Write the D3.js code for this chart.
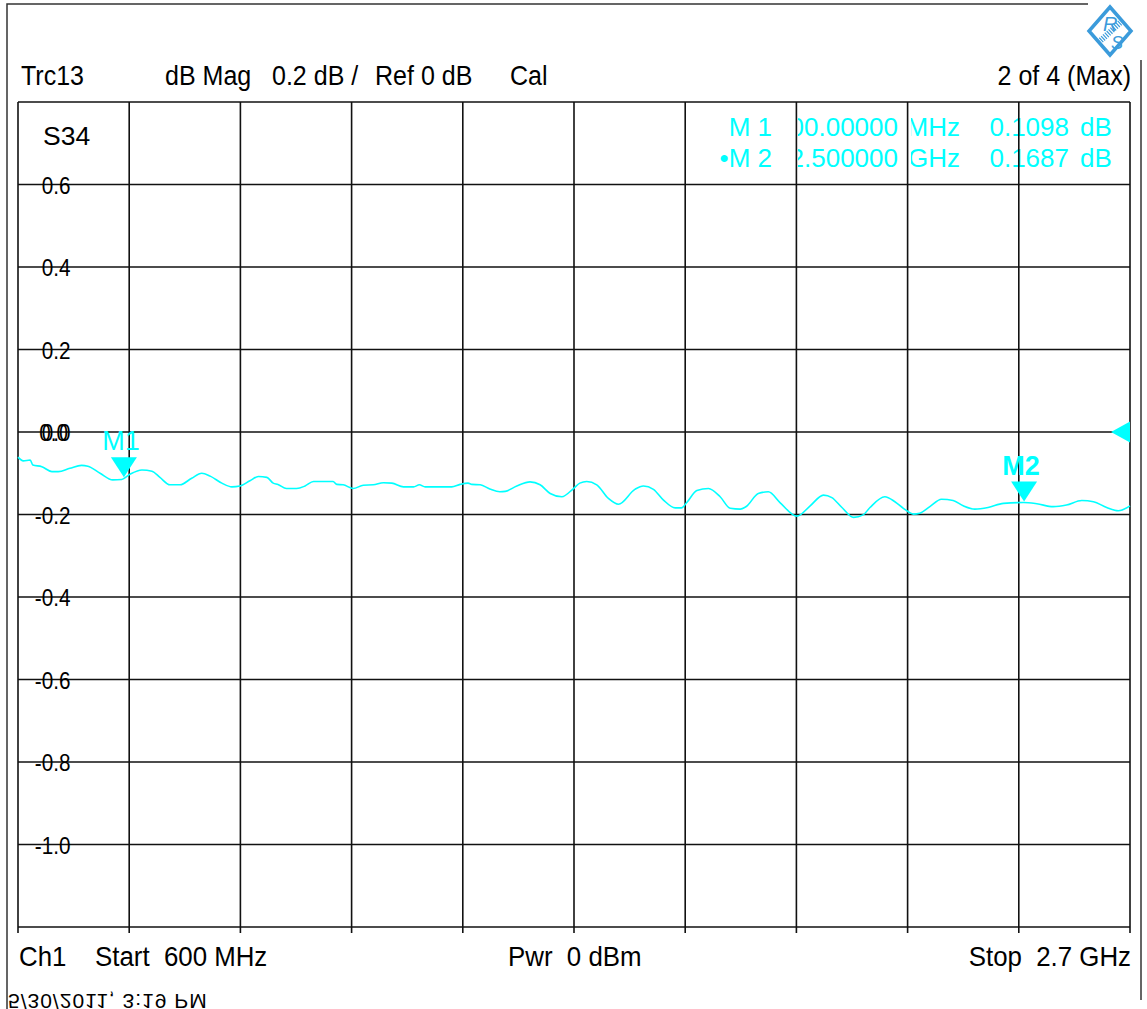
<!DOCTYPE html>
<html>
<head>
<meta charset="utf-8">
<script src="https://cdn.jsdelivr.net/npm/d3@7"></script>
<style>
  body { margin: 0; background: #fff; }
  svg text { font-family: "Liberation Sans", Arial, sans-serif; white-space: pre; }
</style>
</head>
<body>
<svg id="chart"></svg>
<script>
// trace S34, frequency in MHz, magnitude in dB
const freqMHz = [
  600, 610, 623, 628, 645, 664, 676, 698, 720, 732,
  755, 779, 796, 812, 834, 853, 868, 887, 906, 928,
  947, 963, 985, 1004, 1019, 1038, 1054, 1070, 1082, 1091,
  1107, 1126, 1142, 1158, 1195, 1202, 1214, 1233, 1252, 1271,
  1290, 1306, 1328, 1347, 1358, 1369, 1419, 1435, 1450, 1457,
  1473, 1491, 1510, 1520, 1542, 1567, 1586, 1605, 1627, 1649,
  1661, 1674, 1693, 1715, 1734, 1765, 1781, 1800, 1819, 1841,
  1853, 1863, 1882, 1904, 1926, 1945, 1964, 1976, 1998, 2017,
  2039, 2071, 2096, 2121, 2137, 2156, 2178, 2196, 2209, 2237,
  2256, 2272, 2291, 2303, 2322, 2344, 2366, 2385, 2407, 2432,
  2461, 2499, 2524, 2555, 2580, 2609, 2631, 2656, 2678, 2700
];
const s34dB = [
  -0.061, -0.070, -0.068, -0.080, -0.084, -0.096, -0.096, -0.088, -0.081, -0.083,
  -0.100, -0.116, -0.115, -0.102, -0.092, -0.095, -0.110, -0.128, -0.128, -0.112,
  -0.100, -0.107, -0.124, -0.133, -0.131, -0.118, -0.108, -0.110, -0.124, -0.127,
  -0.137, -0.137, -0.131, -0.120, -0.120, -0.127, -0.128, -0.137, -0.129, -0.128,
  -0.123, -0.124, -0.133, -0.133, -0.128, -0.133, -0.133, -0.127, -0.124, -0.127,
  -0.128, -0.138, -0.145, -0.144, -0.131, -0.121, -0.128, -0.149, -0.157, -0.137,
  -0.124, -0.120, -0.128, -0.161, -0.175, -0.139, -0.131, -0.139, -0.165, -0.184,
  -0.184, -0.171, -0.142, -0.137, -0.157, -0.185, -0.187, -0.180, -0.149, -0.145,
  -0.171, -0.204, -0.179, -0.153, -0.159, -0.183, -0.207, -0.201, -0.183, -0.157,
  -0.169, -0.185, -0.199, -0.197, -0.181, -0.163, -0.166, -0.179, -0.187, -0.183,
  -0.173, -0.171, -0.174, -0.181, -0.177, -0.166, -0.169, -0.183, -0.191, -0.179
];

const yTicks = [0.6, 0.4, 0.2, 0.0, -0.2, -0.4, -0.6, -0.8, -1.0];

const markerNames = ["M1", "M2"];
const markerFreq = [800, 2500];
const markerVal = [-0.1098, -0.1687];
const markerFreqText = ["800.00000", "2.500000"];
const markerUnit = ["MHz", "GHz"];

const headerLeft = ["Trc13", "dB Mag", "0.2 dB /", "Ref 0 dB", "Cal"];
const headerRight = "2 of 4 (Max)";
const footer = ["Ch1", "Start  600 MHz", "Pwr  0 dBm", "Stop  2.7 GHz"];
const stamp = "5/30/2011, 3:19 PM";

const W = 1147, H = 1009;
const cyan = "#00ffff", ink = "#111";

// plain hyphen minus like the instrument screen
const loc = d3.formatLocale({ decimal: ".", thousands: ",", grouping: [3], currency: ["", ""], minus: "-" });
const f1 = loc.format(".1f"), f4 = loc.format(".4f");

const svg = d3.select("#chart").attr("width", W).attr("height", H);
svg.append("rect").attr("width", W).attr("height", H).attr("fill", "#fff");

const x = d3.scaleLinear().domain([600, 2700]).range([18, 1130]);
const y = d3.scaleLinear().domain([-1.2, 0.8]).range([927, 102]);

// the analyzer font is a bit taller and narrower than Arial
function narrow(g, tx, ty, s, size, anchor, sx) {
    return g.append("text")
        .attr("transform", `translate(${tx},${ty}) scale(${sx},1)`)
        .attr("font-size", size)
        .attr("text-anchor", anchor || "start")
        .text(s);
}

// outer frame
svg.append("path")
    .attr("d", "M1088,4H7V1009")
    .attr("fill", "none").attr("stroke", "#333").attr("stroke-width", 1.5);
svg.append("line")
    .attr("x1", 1141).attr("x2", 1141).attr("y1", 60).attr("y2", 1000)
    .attr("stroke", "#333").attr("stroke-width", 1.5);

// R&S logo
const logo = svg.append("g").attr("transform", "translate(1110,31)");
logo.append("path").attr("d", "M0,-24L21,0L0,24L-21,0Z")
    .attr("fill", "#fff").attr("stroke", "#3b9bdb").attr("stroke-width", 3.5);
logo.append("line").attr("x1", 12).attr("y1", -10).attr("x2", -12).attr("y2", 12)
    .attr("stroke", "#3b9bdb").attr("stroke-width", 6).attr("stroke-dasharray", "1.2,1.3");
logo.append("text").attr("x", -7).attr("y", 0).attr("font-size", 20)
    .attr("font-style", "italic").attr("fill", "#3b9bdb").text("R");
logo.append("text").attr("x", 1).attr("y", 18).attr("font-size", 18)
    .attr("font-style", "italic").attr("fill", "#3b9bdb").text("S");

// header
const header = svg.append("g").attr("fill", "#000");
headerLeft.forEach((s, i) => narrow(header, [21, 165, 272, 375, 510][i], 85, s, 27.5, "start", 0.91));
narrow(header, 1131, 85, headerRight, 27.5, "end", 0.91);

// marker readout (drawn before the grid so grid lines sit on top)
const clip = svg.append("defs");
[["cFreq", 798], ["cUnit", 911], ["cVal", 989]].forEach(([id, x0]) => {
    clip.append("clipPath").attr("id", id)
        .append("rect").attr("x", x0).attr("y", 105).attr("width", 1130 - x0).attr("height", 75);
});
const rows = svg.append("g").attr("font-size", 26).attr("fill", cyan);
markerNames.forEach((m, i) => {
    const by = 136 + i * 31;
    rows.append("text").attr("x", 772).attr("y", by).attr("text-anchor", "end")
        .text((i === 1 ? "\u2022" : "") + m.replace("M", "M "));
    rows.append("text").attr("x", 898).attr("y", by).attr("text-anchor", "end")
        .attr("clip-path", "url(#cFreq)").text(markerFreqText[i]);
    rows.append("text").attr("x", 960).attr("y", by).attr("text-anchor", "end")
        .attr("clip-path", "url(#cUnit)").text(markerUnit[i]);
    rows.append("text").attr("x", 1069).attr("y", by).attr("text-anchor", "end")
        .attr("clip-path", "url(#cVal)").text(f4(markerVal[i]));
    rows.append("text").attr("x", 1080).attr("y", by).text("dB");
});

// grid
const grid = svg.append("g").attr("stroke", ink).attr("stroke-width", 1.6);
grid.selectAll("line.v").data(d3.range(11).map(i => 600 + i * 210)).enter()
    .append("line").attr("class", "v")
    .attr("x1", d => x(d)).attr("x2", d => x(d))
    .attr("y1", y(0.8)).attr("y2", y(-1.2) + 6);
grid.selectAll("line.h").data(d3.range(11).map(i => -1.2 + i * 0.2)).enter()
    .append("line").attr("class", "h")
    .attr("x1", x(600)).attr("x2", x(2700))
    .attr("y1", d => y(d)).attr("y2", d => y(d));

// y labels
const yl = svg.append("g").attr("fill", "#000");
yTicks.forEach(d => narrow(yl, 70.5, y(d) + 9, f1(Math.abs(d) < 1e-9 ? 0 : d), 23, "end", 0.9));
narrow(yl, 68, y(0) + 9, "0.0", 23, "end", 0.9);

svg.append("text").attr("x", 43).attr("y", 145).attr("font-size", 26.5).text("S34");

// reference position arrow
svg.append("path")
    .attr("d", `M${x(2700) - 19},${y(0)}L${x(2700)},${y(0) - 10.5}L${x(2700)},${y(0) + 10.5}Z`)
    .attr("fill", cyan);

// trace
const pts = freqMHz.map((f, i) => [f, s34dB[i]]);
svg.append("path")
    .datum(pts)
    .attr("fill", "none")
    .attr("stroke", cyan)
    .attr("stroke-width", 1.6)
    .attr("d", d3.line().x(d => x(d[0])).y(d => y(d[1])).curve(d3.curveMonotoneX));

// markers
markerNames.forEach((m, i) => {
    const mx = x(markerFreq[i]), my = y(markerVal[i]);
    svg.append("path")
        .attr("d", `M${mx},${my}L${mx - 13},${my - 20}L${mx + 13},${my - 20}Z`)
        .attr("fill", cyan);
    svg.append("text")
        .attr("x", mx - 3).attr("y", my - 27)
        .attr("text-anchor", "middle")
        .attr("font-size", 27)
        .attr("font-weight", i === 1 ? "bold" : "normal")
        .attr("fill", cyan)
        .text(m);
});

// footer
const foot = svg.append("g").attr("fill", "#000");
footer.forEach((s, i) => narrow(foot, [19, 95, 508, 1131][i], 966, s, 27.5, i === 3 ? "end" : "start", 0.94));

// time stamp, printed upside down in the reference
svg.append("text")
    .attr("transform", "translate(8,994) scale(1,-1)")
    .attr("font-size", 21)
    .attr("letter-spacing", 1)
    .attr("fill", "#000")
    .text(stamp);
</script>
</body>
</html>
